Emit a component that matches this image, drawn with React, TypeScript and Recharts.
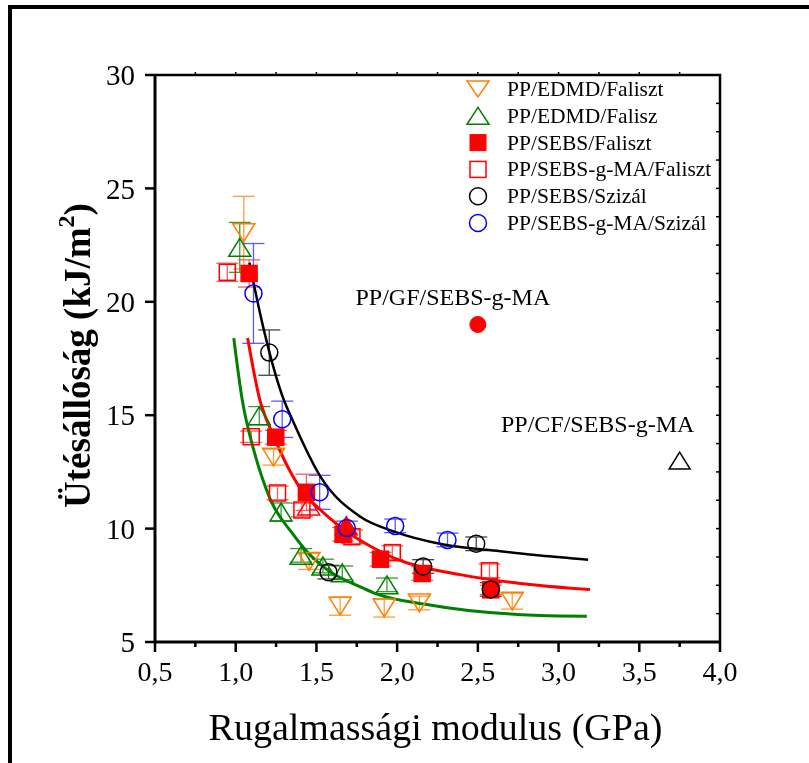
import React from 'react';
import { ComposedChart, XAxis, YAxis, Scatter, Line, ErrorBar, Legend } from 'recharts';

const FONT = '"Liberation Serif", "Times New Roman", serif';

const ORANGE = '#FF8000';
const GREEN = '#008000';
const RED = '#FF0000';
const BLUE = '#0000FF';
const BLACK = '#000000';

// axis ticks
const xTicks = [0.5, 0.75, 1, 1.25, 1.5, 1.75, 2, 2.25, 2.5, 2.75, 3, 3.25, 3.5, 3.75, 4];
const xTickLabels = ['0,5', '', '1,0', '', '1,5', '', '2,0', '', '2,5', '', '3,0', '', '3,5', '', '4,0'];
const yTicks = [5, 10, 15, 20, 25, 30];
const yTickLabels = ['5', '10', '15', '20', '25', '30'];
const topTicks = [0.75, 1, 1.25, 1.5, 1.75, 2, 2.25, 2.5, 2.75, 3, 3.25, 3.5, 3.75];
const rightTicks = [6.25, 7.5, 8.75, 10, 11.25, 12.5, 13.75, 15, 16.25, 17.5, 18.75, 20, 21.25, 22.5, 23.75, 25, 26.25, 27.5, 28.75];

// plot frame (top and right edges)
const frameX = [0.5, 4, 4];
const frameY = [30, 30, 5];

// series names
const seriesNames = [
  'PP/EDMD/Faliszt',
  'PP/EDMD/Falisz',
  'PP/SEBS/Faliszt',
  'PP/SEBS-g-MA/Faliszt',
  'PP/SEBS/Szizál',
  'PP/SEBS-g-MA/Szizál',
];

// PP/EDMD/Faliszt
const edmdFalisztX = [1.05, 1.234, 1.455, 1.647, 1.92, 2.138, 2.713];
const edmdFalisztY = [23.05, 13.15, 8.55, 6.58, 6.5, 6.72, 6.8];
const edmdFalisztErr = [1.6, 0.35, 0.35, 0.4, 0.4, 0.3, 0.35];

// PP/EDMD/Falisz
const edmdFaliszX = [1.025, 1.146, 1.281, 1.405, 1.54, 1.66, 1.937];
const edmdFaliszY = [22.4, 14.98, 10.73, 8.82, 8.35, 8.05, 7.52];
const edmdFaliszErr = [1.1, 0.4, 0.4, 0.3, 0.3, 0.3, 0.3];

// PP/SEBS/Faliszt
const sebsFalisztX = [1.083, 1.248, 1.438, 1.665, 1.897, 2.155, 2.58];
const sebsFalisztY = [21.25, 14.03, 11.6, 9.75, 8.65, 8.02, 7.3];
const sebsFalisztErr = [0.6, 0.3, 0.8, 0.3, 0.3, 0.3, 0.2];

// PP/SEBS-g-MA/Faliszt
const sebsMaFalisztX = [0.948, 1.096, 1.259, 1.41, 1.72, 1.97, 2.572];
const sebsMaFalisztY = [21.3, 14.05, 11.57, 10.82, 9.64, 8.94, 8.14];
const sebsMaFalisztErr = [0.4, 0.25, 0.3, 0.3, 0.3, 0.3, 0.3];

// PP/SEBS/Szizál
const sebsSzizalX = [1.208, 1.575, 2.161, 2.49, 2.58];
const sebsSzizalY = [17.76, 8.08, 8.33, 9.33, 7.32];
const sebsSzizalErr = [1.0, 0.3, 0.3, 0.3, 0.3];

// PP/SEBS-g-MA/Szizál
const sebsMaSzizalX = [1.11, 1.288, 1.52, 1.688, 1.988, 2.312];
const sebsMaSzizalY = [20.37, 14.82, 11.6, 10.03, 10.12, 9.5];
const sebsMaSzizalErr = [2.2, 0.8, 0.75, 0.3, 0.3, 0.3];

// extra red triangles (not in legend)
const redOpenTriX = [1.452];
const redOpenTriY = [11.0];
const redFilledTriX = [1.685];
const redFilledTriY = [10.13];

// annotated reference points
const gfX = [2.5];
const gfY = [19.0];
const gfLabel = ['PP/GF/SEBS-g-MA'];
const cfX = [3.75];
const cfY = [13.0];
const cfLabel = ['PP/CF/SEBS-g-MA'];

// fitted curves
const fitBlackX = [1.085, 1.171, 1.297, 1.349, 1.524, 1.772, 1.978, 2.287, 2.638, 2.886, 3.183];
const fitBlackY = [21.72, 18.86, 15.69, 14.83, 12.3, 10.52, 9.88, 9.3, 9.0, 8.81, 8.63];
const fitRedX = [1.074, 1.149, 1.235, 1.421, 1.524, 1.685, 1.834, 1.978, 2.39, 2.886, 3.195];
const fitRedY = [18.4, 15.69, 14.08, 11.57, 10.83, 9.88, 9.22, 8.71, 7.97, 7.49, 7.31];
const fitGreenX = [0.988, 1.04, 1.111, 1.215, 1.349, 1.431, 1.566, 1.772, 1.854, 2.184, 2.886, 3.175];
const fitGreenY = [18.4, 15.69, 13.48, 11.28, 9.81, 9.07, 8.19, 7.43, 7.17, 6.65, 6.17, 6.14];

const zip = (xs: number[], ys: number[], es?: number[], labels?: string[]) =>
  xs.map((x, i) => ({ x, y: ys[i], e: es ? es[i] : 0, label: labels ? labels[i] : '' }));

const downTriPath = (cx: number, cy: number, w = 22, h = 18) =>
  `M${cx - w / 2},${cy - h / 2} L${cx + w / 2},${cy - h / 2} L${cx},${cy + h / 2} Z`;
const upTriPath = (cx: number, cy: number, w = 22, h = 18) =>
  `M${cx - w / 2},${cy + h / 2} L${cx + w / 2},${cy + h / 2} L${cx},${cy - h / 2} Z`;

const DownTri = (color: string) => (p: any) => (
  <path d={downTriPath(p.cx, p.cy)} fill="none" stroke={color} strokeWidth={1.5} />
);
const UpTri = (color: string, filled = false) => (p: any) => (
  <path d={upTriPath(p.cx, p.cy)} fill={filled ? color : 'none'} stroke={color} strokeWidth={1.5} />
);
const Sq = (color: string, filled: boolean) => (p: any) => (
  <rect x={p.cx - 8} y={p.cy - 8} width={16} height={16} fill={filled ? color : 'none'} stroke={color} strokeWidth={1.5} />
);
const Circ = (color: string) => (p: any) => (
  <circle cx={p.cx} cy={p.cy} r={8.5} fill="none" stroke={color} strokeWidth={1.5} />
);
const TopTickShape = (p: any) => <line x1={p.cx} x2={p.cx} y1={p.cy} y2={p.cy - 3} stroke="#000" strokeWidth={1.5} />;
const RightTickShape = (p: any) => <line x1={p.cx} x2={p.cx - 4} y1={p.cy} y2={p.cy} stroke="#000" strokeWidth={1.5} />;

const GfShape = (p: any) => (
  <g>
    <circle cx={p.cx} cy={p.cy} r={8} fill={RED} stroke={RED} />
    <text x={p.cx - 25} y={p.cy - 19} textAnchor="middle" fontSize={24} fontFamily={FONT} fill="#000">
      {p.payload.label}
    </text>
  </g>
);
const CfShape = (p: any) => (
  <g>
    <path d={upTriPath(p.cx, p.cy, 21, 17)} fill="none" stroke={BLACK} strokeWidth={1.5} />
    <text x={p.cx - 82} y={p.cy - 29} textAnchor="middle" fontSize={24} fontFamily={FONT} fill="#000">
      {p.payload.label}
    </text>
  </g>
);

const XTick = (props: any) => {
  const { x, y, payload } = props;
  const i = xTicks.findIndex((t) => Math.abs(t - payload.value) < 1e-6);
  const label = i >= 0 ? xTickLabels[i] : '';
  const major = label !== '';
  return (
    <g>
      <line x1={x} x2={x} y1={y} y2={y + (major ? 10 : 5)} stroke="#000" strokeWidth={2.5} />
      {major && (
        <text x={x} y={y + 39} textAnchor="middle" fontSize={28} fontFamily={FONT} fill="#000">
          {label}
        </text>
      )}
    </g>
  );
};

const YTick = (props: any) => {
  const { x, y, payload } = props;
  const i = yTicks.indexOf(payload.value);
  return (
    <text x={x + 1} y={y} dy="0.35em" textAnchor="end" fontSize={29} fontFamily={FONT} fill="#000">
      {i >= 0 ? yTickLabels[i] : ''}
    </text>
  );
};

const legendSymbols = [
  (cx: number, cy: number) => <path d={downTriPath(cx, cy, 22, 16)} fill="none" stroke={ORANGE} strokeWidth={1.5} />,
  (cx: number, cy: number) => <path d={upTriPath(cx, cy, 22, 17)} fill="none" stroke={GREEN} strokeWidth={1.5} />,
  (cx: number, cy: number) => <rect x={cx - 8} y={cy - 8} width={16} height={16} fill={RED} stroke={RED} />,
  (cx: number, cy: number) => <rect x={cx - 8} y={cy - 8} width={16} height={16} fill="none" stroke={RED} strokeWidth={1.5} />,
  (cx: number, cy: number) => <circle cx={cx} cy={cy} r={8.5} fill="none" stroke={BLACK} strokeWidth={1.5} />,
  (cx: number, cy: number) => <circle cx={cx} cy={cy} r={8.5} fill="none" stroke={BLUE} strokeWidth={1.5} />,
];

const LegendContent = () => (
  <svg width={270} height={170}>
    {seriesNames.map((name, i) => {
      const base = 18 + i * 26.8;
      return (
        <g key={name}>
          {legendSymbols[i](16, base - 7)}
          <text x={45} y={base} fontSize={21.5} fontFamily={FONT} fill="#000">
            {name}
          </text>
        </g>
      );
    })}
  </svg>
);

const YTitle = (p: any) => {
  const vb = p.viewBox;
  const cx = vb.x + 82;
  const cy = vb.y + vb.height / 2 - 3;
  return (
    <text
      transform={`rotate(-90 ${cx} ${cy})`}
      x={cx}
      y={cy}
      textAnchor="middle"
      fontSize={37}
      fontWeight="bold"
      fontFamily={FONT}
      fill="#000"
    >
      Ütésállóság (kJ/m
      <tspan dy={-16} fontSize={24}>2</tspan>
      <tspan dy={16}>)</tspan>
    </text>
  );
};

const XTitle = (p: any) => {
  const vb = p.viewBox;
  return (
    <text x={vb.x + vb.width / 2 - 2} y={vb.y + 98} textAnchor="middle" fontSize={38} fontFamily={FONT} fill="#000">
      Rugalmassági modulus (GPa)
    </text>
  );
};

export default function App() {
  return (
    <div style={{ position: 'relative', width: 793, height: 747 }}>
      <div
        style={{
          position: 'fixed',
          left: 8,
          top: 5,
          width: 801,
          height: 758,
          borderTop: '4px solid #000',
          borderLeft: '4px solid #000',
          boxSizing: 'border-box',
          pointerEvents: 'none',
        }}
      />
      <ComposedChart width={793} height={747} margin={{ top: 67, right: 81, bottom: 0, left: 0 }}>
        <XAxis
          xAxisId="x"
          dataKey="x"
          type="number"
          domain={[0.5, 4]}
          ticks={xTicks}
          interval={0}
          tick={<XTick />}
          tickLine={false}
          tickSize={0}
          tickMargin={0}
          axisLine={{ stroke: '#000', strokeWidth: 3 }}
          height={113}
          label={{ content: XTitle }}
        />
        <YAxis
          yAxisId="y"
          dataKey="y"
          type="number"
          domain={[5, 30]}
          ticks={yTicks}
          interval={0}
          tick={<YTick />}
          tickSize={10}
          tickMargin={11}
          tickLine={{ stroke: '#000', strokeWidth: 2.5 }}
          axisLine={{ stroke: '#000', strokeWidth: 3 }}
          width={147}
          label={{ content: YTitle }}
        />
        <Legend
          layout="vertical"
          align="center"
          verticalAlign="middle"
          wrapperStyle={{ position: 'absolute', left: 454, top: 70, width: 270, height: 170 }}
          content={<LegendContent />}
        />

        <Line xAxisId="x" yAxisId="y" data={zip(frameX, frameY)} dataKey="y" type="linear" stroke="#000" strokeWidth={2.5} dot={false} legendType="none" isAnimationActive={false} />
        <Scatter xAxisId="x" yAxisId="y" name="top-ticks" legendType="none" data={zip(topTicks, topTicks.map(() => 30))} dataKey="y" shape={TopTickShape} isAnimationActive={false} />
        <Scatter xAxisId="x" yAxisId="y" name="right-ticks" legendType="none" data={zip(rightTicks.map(() => 4), rightTicks)} dataKey="y" shape={RightTickShape} isAnimationActive={false} />

        <Scatter xAxisId="x" yAxisId="y" name={seriesNames[0]} data={zip(edmdFalisztX, edmdFalisztY, edmdFalisztErr)} dataKey="y" shape={DownTri(ORANGE)} isAnimationActive={false}>
          <ErrorBar dataKey="e" direction="y" width={11} stroke="#FF9A3C" strokeWidth={1.3} />
        </Scatter>
        <Scatter xAxisId="x" yAxisId="y" name={seriesNames[1]} data={zip(edmdFaliszX, edmdFaliszY, edmdFaliszErr)} dataKey="y" shape={UpTri(GREEN)} isAnimationActive={false}>
          <ErrorBar dataKey="e" direction="y" width={11} stroke="#3A9A3A" strokeWidth={1.3} />
        </Scatter>
        <Scatter xAxisId="x" yAxisId="y" name={seriesNames[3]} data={zip(sebsMaFalisztX, sebsMaFalisztY, sebsMaFalisztErr)} dataKey="y" shape={Sq(RED, false)} isAnimationActive={false}>
          <ErrorBar dataKey="e" direction="y" width={11} stroke="#FF5A5A" strokeWidth={1.3} />
        </Scatter>
        <Scatter xAxisId="x" yAxisId="y" name={seriesNames[2]} data={zip(sebsFalisztX, sebsFalisztY, sebsFalisztErr)} dataKey="y" shape={Sq(RED, true)} isAnimationActive={false}>
          <ErrorBar dataKey="e" direction="y" width={11} stroke="#FF5A5A" strokeWidth={1.3} />
        </Scatter>
        <Scatter xAxisId="x" yAxisId="y" name="red-open-tri" legendType="none" data={zip(redOpenTriX, redOpenTriY)} dataKey="y" shape={UpTri(RED)} isAnimationActive={false} />
        <Scatter xAxisId="x" yAxisId="y" name="red-filled-tri" legendType="none" data={zip(redFilledTriX, redFilledTriY)} dataKey="y" shape={UpTri(RED, true)} isAnimationActive={false} />
        <Scatter xAxisId="x" yAxisId="y" name={seriesNames[4]} data={zip(sebsSzizalX, sebsSzizalY, sebsSzizalErr)} dataKey="y" shape={Circ(BLACK)} isAnimationActive={false}>
          <ErrorBar dataKey="e" direction="y" width={11} stroke="#444444" strokeWidth={1.3} />
        </Scatter>
        <Scatter xAxisId="x" yAxisId="y" name={seriesNames[5]} data={zip(sebsMaSzizalX, sebsMaSzizalY, sebsMaSzizalErr)} dataKey="y" shape={Circ(BLUE)} isAnimationActive={false}>
          <ErrorBar dataKey="e" direction="y" width={11} stroke="#5A5AFF" strokeWidth={1.3} />
        </Scatter>

        <Line xAxisId="x" yAxisId="y" data={zip(fitGreenX, fitGreenY)} dataKey="y" type="monotone" stroke={GREEN} strokeWidth={3} dot={false} legendType="none" isAnimationActive={false} />
        <Line xAxisId="x" yAxisId="y" data={zip(fitRedX, fitRedY)} dataKey="y" type="monotone" stroke={RED} strokeWidth={3} dot={false} legendType="none" isAnimationActive={false} />
        <Line xAxisId="x" yAxisId="y" data={zip(fitBlackX, fitBlackY)} dataKey="y" type="monotone" stroke={BLACK} strokeWidth={2.5} dot={false} legendType="none" isAnimationActive={false} />

        <Scatter xAxisId="x" yAxisId="y" name="gf" legendType="none" data={zip(gfX, gfY, undefined, gfLabel)} dataKey="y" shape={GfShape} isAnimationActive={false} />
        <Scatter xAxisId="x" yAxisId="y" name="cf" legendType="none" data={zip(cfX, cfY, undefined, cfLabel)} dataKey="y" shape={CfShape} isAnimationActive={false} />
      </ComposedChart>
    </div>
  );
}
